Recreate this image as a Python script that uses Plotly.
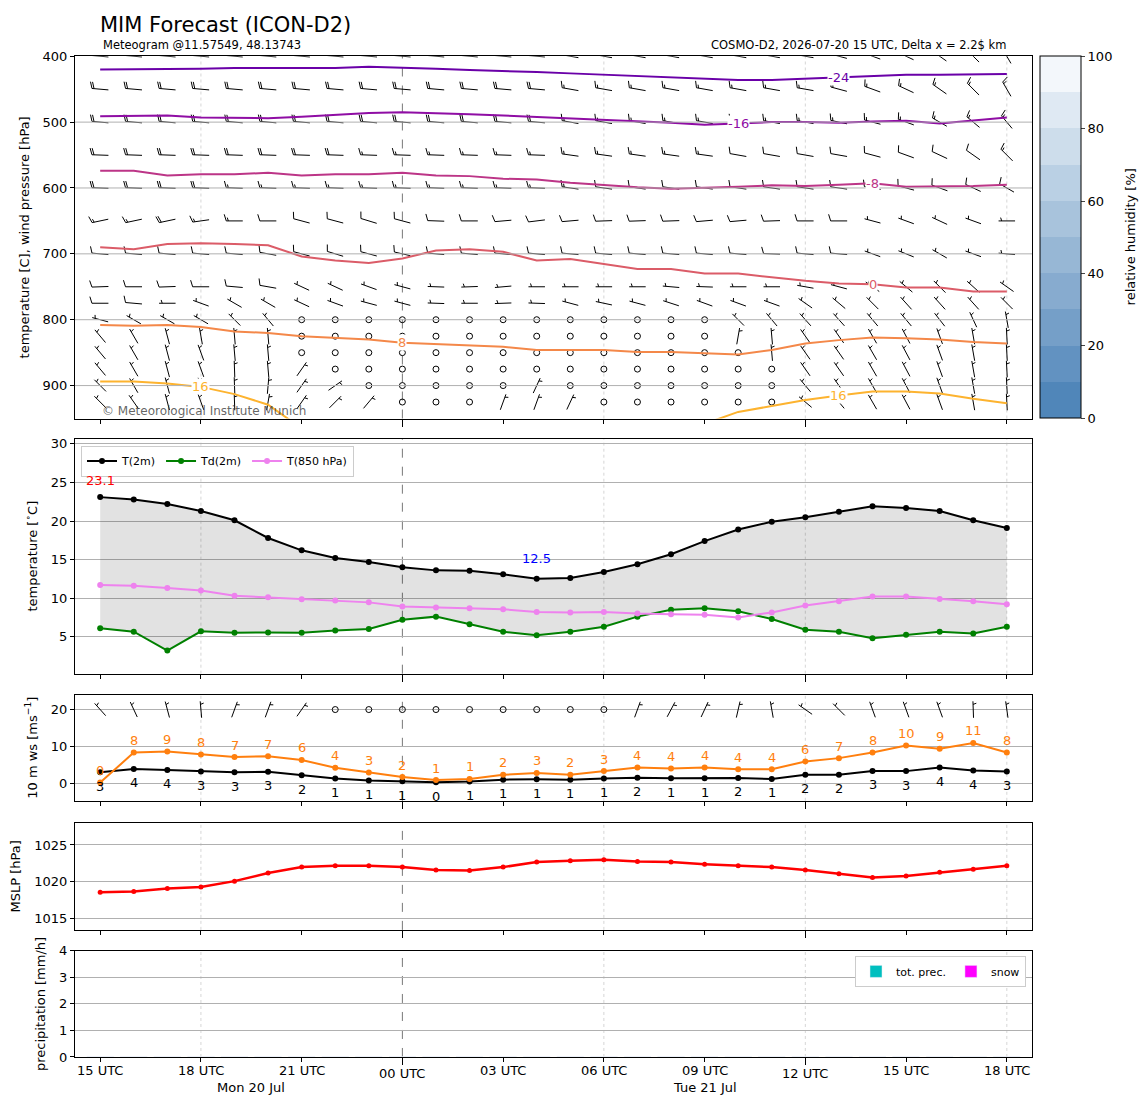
import math
import plotly.graph_objects as go

# ---------------- data ----------------
# forecast hours after 2026-07-20 15 UTC
lead_hours = list(range(28))
x_tick_hours = [0, 3, 6, 9, 12, 15, 18, 21, 24, 27]
x_tick_labels = ['15 UTC', '18 UTC', '21 UTC', '00 UTC', '03 UTC', '06 UTC',
                 '09 UTC', '12 UTC', '15 UTC', '18 UTC']
major_hours = [9, 21]
day_labels = ['Mon 20 Jul', 'Tue 21 Jul']
day_label_hours = [4.5, 18]

# isotherms: pressure [hPa] of each temperature level per hour
iso_levels = [-24, -16, -8, 0, 8, 16]
iso_m24 = [420, 420, 419, 419, 418, 418, 419, 418, 416, 417, 419, 421, 422, 424,
           426, 428, 430, 433, 435, 436, 436, 434, 432, 430, 428, 428, 427, 427]
iso_m16 = [491, 491, 490, 493, 493, 494, 492, 489, 486, 485, 486, 488, 490, 492,
           495, 496, 498, 501, 504, 502, 500, 500, 501, 499, 498, 502, 498, 493]
iso_m8 = [574, 574, 581, 579, 579, 577, 581, 579, 579, 577, 581, 582, 586, 587,
          592, 596, 599, 601, 600, 598, 596, 597, 595, 593, 598, 598, 597, 595]
iso_0 = [690, 693, 685, 684, 685, 687, 704, 710, 714, 707, 695, 693, 697, 710,
         708, 715, 723, 723, 730, 730, 736, 741, 745, 746, 751, 751, 757, 757]
iso_8 = [808, 809, 808, 811, 818, 820, 825, 828, 830, 835, 837, 838, 841, 846,
         846, 846, 849, 849, 851, 853, 846, 836, 831, 827, 828, 830, 834, 836]
iso_16 = [894, 894, 897, 902, 913, 929, 965, None, None, None, None, None, None, None,
          None, None, None, None, 958, 940, 931, 922, 915, 909, 909, 912, 920, 927]
iso_label_hours = [[22], [19], [23], [23], [9], [3, 22]]

# wind barbs: direction [deg] and speed per pressure level
wd_400 = [275, 275, 275, 275, 275, 275, 275, 275, 275, 275, 275, 275, 275, 275,
          280, 280, 280, 280, 280, 280, 280, 280, 285, 290, 295, 305, 315, 330]
ws_400 = [20, 20, 20, 20, 20, 20, 20, 20, 20, 20, 20, 20, 20, 20,
          15, 15, 15, 15, 15, 15, 15, 15, 15, 15, 15, 15, 15, 15]
wd_450 = [275, 275, 275, 275, 275, 275, 275, 275, 275, 275, 275, 275, 275, 275,
          280, 280, 280, 280, 280, 280, 280, 280, 285, 290, 295, 305, 315, 330]
ws_450 = [20, 20, 20, 20, 20, 20, 20, 20, 20, 20, 20, 20, 20, 20,
          15, 15, 15, 15, 15, 15, 15, 15, 15, 15, 15, 15, 15, 15]
wd_500 = [275, 275, 275, 275, 275, 275, 275, 275, 275, 275, 275, 275, 275, 275,
          280, 280, 280, 280, 280, 280, 280, 280, 282, 285, 290, 300, 310, 320]
ws_500 = [20, 20, 20, 20, 20, 20, 20, 20, 20, 20, 20, 20, 20, 20,
          15, 15, 15, 15, 15, 15, 15, 15, 15, 15, 15, 15, 15, 15]
wd_550 = [272, 272, 272, 272, 272, 272, 272, 272, 272, 272, 272, 272, 272, 272,
          278, 278, 278, 278, 278, 280, 280, 280, 280, 285, 290, 295, 305, 315]
ws_550 = [20, 20, 20, 20, 20, 20, 20, 20, 15, 15, 15, 15, 15, 15,
          15, 15, 15, 15, 15, 10, 10, 10, 10, 10, 10, 10, 10, 15]
wd_600 = [272, 272, 272, 272, 272, 272, 272, 272, 272, 272, 272, 272, 272, 272,
          278, 278, 278, 278, 278, 278, 278, 278, 278, 280, 285, 290, 295, 300]
ws_600 = [20, 20, 20, 20, 15, 15, 15, 15, 15, 15, 15, 15, 15, 15,
          15, 10, 10, 10, 10, 10, 10, 10, 10, 10, 10, 10, 10, 10]
wd_650 = [258, 258, 258, 262, 270, 270, 285, 285, 287, 285, 272, 270, 265, 263,
          265, 268, 268, 268, 265, 265, 268, 270, 270, 285, 290, 295, 290, 270]
ws_650 = [15, 15, 20, 15, 15, 10, 10, 10, 10, 10, 10, 10, 10, 10,
          10, 10, 10, 10, 10, 10, 10, 10, 10, 5, 5, 5, 5, 5]
wd_700 = [275, 275, 275, 275, 275, 280, 285, 287, 285, 283, 275, 275, 275, 275,
          275, 275, 275, 275, 275, 275, 272, 275, 275, 290, 292, 300, 290, 275]
ws_700 = [10, 10, 10, 10, 10, 10, 10, 10, 10, 10, 10, 10, 10, 10,
          10, 10, 10, 10, 10, 10, 10, 10, 10, 5, 5, 5, 5, 5]
wd_750 = [268, 270, 268, 270, 275, 280, 295, 295, 290, 285, 272, 268, 265, 270,
          270, 270, 270, 275, 272, 270, 270, 280, 285, 305, 310, 315, 312, 305]
ws_750 = [10, 10, 10, 10, 10, 10, 5, 5, 5, 5, 5, 5, 5, 5,
          5, 5, 5, 5, 5, 5, 5, 5, 5, 5, 5, 5, 5, 5]
wd_775 = [270, 275, 270, 290, 300, 300, 295, 290, 285, 285, 272, 270, 268, 272,
          285, 282, 285, 288, 290, 290, 290, 305, 310, 315, 318, 318, 318, 315]
ws_775 = [10, 10, 5, 5, 5, 5, 5, 5, 5, 5, 5, 5, 5, 5,
          5, 5, 5, 5, 5, 5, 5, 5, 5, 5, 5, 5, 5, 5]
wd_800 = [285, 300, 300, 300, 315, 320, 0, 0, 0, 0, 0, 0, 0, 0,
          0, 0, 0, 0, 0, 315, 320, 318, 318, 320, 320, 322, 335, 350]
ws_800 = [5, 5, 5, 5, 5, 5, 0, 0, 0, 0, 0, 0, 0, 0,
          0, 0, 0, 0, 0, 5, 5, 5, 5, 5, 5, 5, 5, 5]
wd_825 = [320, 330, 345, 350, 355, 355, 0, 0, 0, 0, 0, 0, 0, 0,
          0, 0, 0, 0, 0, 10, 355, 325, 325, 330, 332, 340, 350, 357]
ws_825 = [5, 5, 5, 5, 5, 5, 0, 0, 0, 0, 0, 0, 0, 0,
          0, 0, 0, 0, 0, 5, 5, 5, 5, 5, 5, 5, 5, 5]
wd_850 = [320, 330, 345, 340, 355, 355, 0, 0, 0, 0, 0, 0, 0, 0,
          0, 0, 0, 0, 0, 0, 355, 325, 325, 330, 332, 340, 350, 357]
ws_850 = [5, 5, 5, 5, 5, 5, 0, 0, 0, 0, 0, 0, 0, 0,
          0, 0, 0, 0, 0, 0, 5, 5, 5, 5, 5, 5, 5, 5]
wd_875 = [320, 330, 345, 340, 358, 355, 35, 0, 0, 0, 0, 0, 0, 0,
          0, 0, 0, 0, 0, 0, 0, 325, 325, 330, 332, 340, 350, 357]
ws_875 = [5, 5, 5, 5, 5, 5, 5, 0, 0, 0, 0, 0, 0, 0,
          0, 0, 0, 0, 0, 0, 0, 5, 5, 5, 5, 5, 5, 5]
wd_900 = [315, 330, 345, 340, 358, 5, 35, 55, 0, 0, 0, 0, 0, 25,
          0, 0, 0, 0, 0, 0, 0, 320, 325, 330, 332, 340, 350, 357]
ws_900 = [5, 5, 5, 5, 5, 5, 5, 5, 0, 0, 0, 0, 0, 5,
          0, 0, 0, 0, 0, 0, 0, 5, 5, 5, 5, 5, 5, 5]
wd_925 = [315, 325, 345, 340, 358, 10, 35, 45, 40, 0, 0, 0, 20, 20,
          25, 0, 0, 0, 0, 0, 0, 310, 320, 330, 332, 340, 350, 357]
ws_925 = [5, 5, 5, 5, 5, 5, 5, 5, 5, 0, 0, 0, 5, 5,
          5, 0, 0, 0, 0, 0, 0, 5, 5, 5, 5, 5, 5, 5]

# 2 m temperatures [C]
t2m = [23.1, 22.8, 22.2, 21.3, 20.1, 17.8, 16.2, 15.2, 14.7, 14.0, 13.6, 13.55, 13.1, 12.5,
       12.6, 13.4, 14.4, 15.7, 17.4, 18.9, 19.9, 20.5, 21.2, 21.9, 21.7, 21.3, 20.1, 19.1]
td2m = [6.1, 5.65, 3.2, 5.7, 5.5, 5.55, 5.5, 5.8, 6.0, 7.2, 7.6, 6.6, 5.65, 5.2,
        5.65, 6.3, 7.6, 8.5, 8.7, 8.3, 7.3, 5.9, 5.65, 4.8, 5.25, 5.65, 5.4, 6.3]
t850 = [11.7, 11.6, 11.3, 11.0, 10.3, 10.1, 9.85, 9.7, 9.45, 8.9, 8.8, 8.7, 8.55, 8.2,
        8.15, 8.2, 8.0, 7.9, 7.85, 7.5, 8.15, 9.05, 9.6, 10.2, 10.2, 9.9, 9.6, 9.2]

# 10 m wind [m/s] and gusts, plus 10 m barbs
ws10 = [3.1, 4.0, 3.7, 3.3, 3.1, 3.2, 2.3, 1.4, 0.9, 0.7, 0.4, 0.6, 1.1, 1.2,
        1.1, 1.4, 1.6, 1.45, 1.45, 1.55, 1.3, 2.4, 2.45, 3.45, 3.4, 4.4, 3.55, 3.3]
gust10 = [0.3, 8.4, 8.7, 7.9, 7.2, 7.4, 6.4, 4.3, 3.0, 1.8, 1.0, 1.3, 2.4, 2.9,
          2.45, 3.4, 4.4, 4.1, 4.4, 3.9, 3.9, 6.0, 6.9, 8.4, 10.3, 9.4, 11.0, 8.4]
wd10 = [318, 335, 345, 355, 20, 20, 35, 0, 0, 0, 0, 0, 0, 0,
        0, 0, 20, 28, 25, 13, 350, 305, 315, 340, 340, 340, 358, 352]
barb10 = [5, 5, 5, 5, 5, 5, 5, 0, 0, 0, 0, 0, 0, 0,
          0, 0, 5, 5, 5, 5, 5, 5, 5, 5, 5, 5, 5, 5]

# mean sea level pressure [hPa]
mslp = [1018.6, 1018.7, 1019.1, 1019.3, 1020.1, 1021.2, 1022.0, 1022.2, 1022.2, 1022.0,
        1021.6, 1021.55, 1022.0, 1022.7, 1022.85, 1023.0, 1022.75, 1022.7, 1022.4, 1022.2,
        1022.0, 1021.6, 1021.1, 1020.6, 1020.8, 1021.3, 1021.7, 1022.2]

# precipitation [mm/h]
prec_total = [0.0, 0.0, 0.0, 0.0, 0.0, 0.0, 0.0, 0.0, 0.0, 0.0, 0.0, 0.0, 0.0, 0.0,
              0.0, 0.0, 0.0, 0.0, 0.0, 0.0, 0.0, 0.0, 0.0, 0.0, 0.0, 0.0, 0.0, 0.0]
prec_snow = [0.0, 0.0, 0.0, 0.0, 0.0, 0.0, 0.0, 0.0, 0.0, 0.0, 0.0, 0.0, 0.0, 0.0,
             0.0, 0.0, 0.0, 0.0, 0.0, 0.0, 0.0, 0.0, 0.0, 0.0, 0.0, 0.0, 0.0, 0.0]

# ---------------- layout ----------------
W, H = 1148, 1105
FONT = 'DejaVu Sans'


# the page is shown with a small offset and a slight vertical squeeze,
# so target pixel positions are mapped to paper fractions here
def fx(px):
    return (px - 8) / W


def fy(py):
    return 1 - (py * 1.0145 - 15) / H


X_DOM = [fx(75), fx(1032)]
X_RANGE = [-0.75, 27.75]
PANELS = [(56, 418), (438, 673), (694, 800), (822, 929), (950, 1056)]  # top/bottom px
Y_RANGES = [[950, 400], [0.2, 30.7], [-4.6, 24], [1013.5, 1028], [0, 4]]
Y_TICKS = [[400, 500, 600, 700, 800, 900], [5, 10, 15, 20, 25, 30], [0, 10, 20],
           [1015, 1020, 1025], [0, 1, 2, 3, 4]]
Y_TITLES = ['temperature [C], wind pressure [hPa]', 'temperature [<sup>∘</sup>C]',
            '10 m ws [ms<sup>−1</sup>]', 'MSLP [hPa]', 'precipitation [mm/h]']
ISO_COLORS = ['#6a00a8', '#8f0da4', '#bc3587', '#db5c68', '#f48849', '#fdb32f']
RH_COLORS = ['rgb(80,134,185)', 'rgb(98,146,193)', 'rgb(117,159,200)', 'rgb(135,171,207)',
             'rgb(151,183,213)', 'rgb(168,195,220)', 'rgb(186,208,228)', 'rgb(205,221,235)',
             'rgb(223,233,243)', 'rgb(243,247,251)']

px_per_hour = (X_DOM[1] - X_DOM[0]) * W / (X_RANGE[1] - X_RANGE[0])


def data_per_px_up(i):
    """data units of panel i per screen pixel upwards"""
    top, bottom = PANELS[i]
    r0, r1 = Y_RANGES[i]
    return (r1 - r0) / (bottom - top)


def barb_path(x0, y0, wdir, wspd, sy, length=16.5):
    """staff + barbs (matplotlib style, pivot middle) as a None-separated path"""
    a = math.radians(wdir)
    s = (math.sin(a), math.cos(a))      # towards where the wind comes from
    b = (s[1], -s[0])                    # barb side
    sx = 1.0 / px_per_hour

    def pt(u, v):
        return (x0 + (u * b[0] + v * s[0]) * sx, y0 + (u * b[1] + v * s[1]) * sy)

    xs, ys = [], []

    def seg(p, q):
        xs.extend([p[0], q[0], None])
        ys.extend([p[1], q[1], None])

    mag = 5 * round(wspd / 5)
    nbarb = (mag % 50) // 10
    half = mag % 10 >= 5
    L = length
    seg(pt(0, -L / 2), pt(0, L / 2))
    offset = L
    for _ in range(nbarb):
        v = -L / 2 + offset
        seg(pt(0, v), pt(0.4 * L, v + 0.125 * L))
        offset -= 0.125 * L
    if half:
        if offset == L:
            offset -= 1.5 * 0.125 * L
        v = -L / 2 + offset
        seg(pt(0, v), pt(0.2 * L, v + 0.0625 * L))
    return xs, ys


def barb_traces(rows, xaxis, yaxis, sy):
    bx, by, cx, cy = [], [], [], []
    for yval, dirs, spds in rows:
        for h, d, v in zip(lead_hours, dirs, spds):
            if 5 * round(v / 5) == 0:
                cx.append(h)
                cy.append(yval)
                continue
            xs, ys = barb_path(h, yval, d, v, sy)
            bx += xs
            by += ys
    return [
        go.Scatter(x=bx, y=by, mode='lines', line=dict(color='black', width=1),
                   xaxis=xaxis, yaxis=yaxis, hoverinfo='skip', showlegend=False),
        go.Scatter(x=cx, y=cy, mode='markers', xaxis=xaxis, yaxis=yaxis,
                   marker=dict(symbol='circle-open', size=6, color='black', line=dict(width=1)),
                   hoverinfo='skip', showlegend=False),
    ]


fig = go.Figure()

# ---- panel 1: isotherms and wind barbs ----
wind_rows = [
    (400, wd_400, ws_400), (450, wd_450, ws_450), (500, wd_500, ws_500), (550, wd_550, ws_550),
    (600, wd_600, ws_600), (650, wd_650, ws_650), (700, wd_700, ws_700), (750, wd_750, ws_750),
    (775, wd_775, ws_775), (800, wd_800, ws_800), (825, wd_825, ws_825), (850, wd_850, ws_850),
    (875, wd_875, ws_875), (900, wd_900, ws_900), (925, wd_925, ws_925),
]
for tr in barb_traces(wind_rows, 'x', 'y', data_per_px_up(0)):
    fig.add_trace(tr)

# colorbar for relative humidity (no field drawn in this run)
rh_scale = []
for k, c in enumerate(RH_COLORS):
    rh_scale += [[k / 10, c], [(k + 1) / 10, c]]
fig.add_trace(go.Scatter(
    x=[0, 0], y=[940, 940], mode='markers', xaxis='x', yaxis='y', hoverinfo='skip',
    showlegend=False, opacity=0,
    marker=dict(size=1, color=[0, 100], cmin=0, cmax=100, colorscale=rh_scale, showscale=True,
                colorbar=dict(x=fx(1040), xanchor='left', y=fy(56), yanchor='top',
                              len=fy(56) - fy(418), lenmode='fraction', thickness=41,
                              xpad=0, ypad=0, outlinecolor='black', outlinewidth=1,
                              tickvals=[0, 20, 40, 60, 80, 100], ticks='outside', ticklen=4,
                              tickfont=dict(family=FONT, size=13, color='black')))))

isotherms = [iso_m24, iso_m16, iso_m8, iso_0, iso_8, iso_16]
annotations = []
for lev, line, col, lab_hours in zip(iso_levels, isotherms, ISO_COLORS, iso_label_hours):
    fig.add_trace(go.Scatter(x=lead_hours, y=line, mode='lines', xaxis='x', yaxis='y',
                             line=dict(color=col, width=2), connectgaps=False,
                             hoverinfo='skip', showlegend=False))
    for h in lab_hours:
        annotations.append(dict(x=h, y=line[h], xref='x', yref='y', text=f'{lev:d}',
                                showarrow=False, bgcolor='white', borderpad=0,
                                font=dict(family=FONT, size=13, color=col)))

# ---- panel 2: temperatures ----
fig.add_trace(go.Scatter(x=lead_hours, y=td2m, mode='lines', line=dict(width=0),
                         xaxis='x2', yaxis='y2', hoverinfo='skip', showlegend=False))
fig.add_trace(go.Scatter(x=lead_hours, y=t2m, mode='lines', line=dict(width=0),
                         fill='tonexty', fillcolor='rgba(0,0,0,0.115)',
                         xaxis='x2', yaxis='y2', hoverinfo='skip', showlegend=False))
for name, vals, col in [('T(2m)', t2m, 'black'), ('Td(2m)', td2m, 'green'),
                        ('T(850 hPa)', t850, 'violet')]:
    fig.add_trace(go.Scatter(x=lead_hours, y=vals, mode='lines+markers', name=name,
                             line=dict(color=col, width=2), marker=dict(color=col, size=6),
                             xaxis='x2', yaxis='y2', legend='legend'))
i_max = t2m.index(max(t2m))
i_min = t2m.index(min(t2m))
annotations.append(dict(x=lead_hours[i_max], y=t2m[i_max], xref='x2', yref='y2', yshift=17,
                        text=f'{t2m[i_max]:.1f}', showarrow=False,
                        font=dict(family=FONT, size=13, color='red')))
annotations.append(dict(x=lead_hours[i_min], y=t2m[i_min], xref='x2', yref='y2', yshift=20,
                        text=f'{t2m[i_min]:.1f}', showarrow=False,
                        font=dict(family=FONT, size=13, color='blue')))

# ---- panel 3: 10 m wind ----
for tr in barb_traces([(20, wd10, barb10)], 'x3', 'y3', data_per_px_up(2)):
    fig.add_trace(tr)
fig.add_trace(go.Scatter(x=lead_hours, y=ws10, mode='lines+markers', showlegend=False,
                         line=dict(color='black', width=2), marker=dict(color='black', size=6),
                         xaxis='x3', yaxis='y3'))
fig.add_trace(go.Scatter(x=lead_hours, y=gust10, mode='lines+markers', showlegend=False,
                         line=dict(color='#ff7f0e', width=2), marker=dict(color='#ff7f0e', size=6),
                         xaxis='x3', yaxis='y3'))
for h, v, g in zip(lead_hours, ws10, gust10):
    annotations.append(dict(x=h, y=v, xref='x3', yref='y3', yshift=-14, text=f'{v:.0f}',
                            showarrow=False, font=dict(family=FONT, size=13, color='black')))
    annotations.append(dict(x=h, y=g, xref='x3', yref='y3', yshift=12, text=f'{g:.0f}',
                            showarrow=False, font=dict(family=FONT, size=13, color='#ff7f0e')))

# ---- panel 4: MSLP ----
fig.add_trace(go.Scatter(x=lead_hours, y=mslp, mode='lines+markers', showlegend=False,
                         line=dict(color='red', width=2.5), marker=dict(color='red', size=5),
                         xaxis='x4', yaxis='y4'))

# ---- panel 5: precipitation ----
fig.add_trace(go.Bar(x=lead_hours, y=prec_total, name='tot. prec.', marker_color='#00bfbf',
                     xaxis='x5', yaxis='y5', legend='legend2'))
fig.add_trace(go.Bar(x=lead_hours, y=prec_snow, name='snow', marker_color='#ff00ff',
                     xaxis='x5', yaxis='y5', legend='legend2'))

# ---- axes ----
layout = {}
minor_hours = [h for h in x_tick_hours if h not in major_hours]
for i, (top, bottom) in enumerate(PANELS):
    sfx = '' if i == 0 else str(i + 1)
    layout['xaxis' + sfx] = dict(
        domain=X_DOM, range=X_RANGE, anchor='y' + sfx, showgrid=False, zeroline=False,
        showline=True, mirror=True, linecolor='black', linewidth=1,
        tickmode='array', tickvals=major_hours, showticklabels=False,
        ticks='outside', ticklen=7, tickcolor='black',
        minor=dict(tickmode='array', tickvals=minor_hours, ticks='outside', ticklen=4,
                   tickcolor='black', showgrid=False),
        matches=None if i == 0 else 'x')
    layout['yaxis' + sfx] = dict(
        domain=[fy(bottom), fy(top)], range=Y_RANGES[i], anchor='x' + sfx,
        tickvals=Y_TICKS[i], ticks='outside', ticklen=4, tickcolor='black',
        showline=True, mirror=True, linecolor='black', linewidth=1, zeroline=False,
        showgrid=i != 0, gridcolor='#b0b0b0', gridwidth=1,
        tickfont=dict(family=FONT, size=13, color='black'),
        title=dict(text=Y_TITLES[i], standoff=10, font=dict(family=FONT, size=13, color='black')))

# ---- shapes: grid lines ----
shapes = []
for p in Y_TICKS[0][1:]:
    shapes.append(dict(type='line', xref='x domain', yref='y', x0=0, x1=1, y0=p, y1=p,
                       layer='above', line=dict(color='#b0b0b0', width=1)))
for i in range(len(PANELS)):
    sfx = '' if i == 0 else str(i + 1)
    for h in [3, 15, 21, 27]:
        shapes.append(dict(type='line', xref='x' + sfx, yref='y' + sfx + ' domain',
                           x0=h, x1=h, y0=0, y1=1, layer='below',
                           line=dict(color='#cccccc', width=0.8, dash='dot')))
    shapes.append(dict(type='line', xref='x' + sfx, yref='y' + sfx + ' domain',
                       x0=9, x1=9, y0=0, y1=1, layer='below',
                       line=dict(color='#555555', width=0.8, dash='dash')))

# ---- text ----
for h, lab in zip(x_tick_hours, x_tick_labels):
    annotations.append(dict(x=h, y=fy(1073 if h in major_hours else 1070), xref='x5',
                            yref='paper', text=lab, showarrow=False, yanchor='middle',
                            font=dict(family=FONT, size=13, color='black')))
for h, lab in zip(day_label_hours, day_labels):
    annotations.append(dict(x=h, y=fy(1087), xref='x5', yref='paper', text=lab,
                            showarrow=False, yanchor='middle',
                            font=dict(family=FONT, size=13, color='black')))
annotations += [
    dict(x=fx(99), y=1 + 3 / H, xref='paper', yref='paper', xanchor='left', yanchor='top',
         text='MIM Forecast (ICON-D2)', showarrow=False, borderpad=0,
         font=dict(family=FONT, size=21, color='black')),
    dict(x=fx(101), y=fy(45), xref='paper', yref='paper', xanchor='left', yanchor='middle',
         text='Meteogram @11.57549, 48.13743', showarrow=False,
         font=dict(family=FONT, size=11.5, color='black')),
    dict(x=fx(1008), y=fy(45), xref='paper', yref='paper', xanchor='right', yanchor='middle',
         text='COSMO-D2, 2026-07-20 15 UTC, Delta x = 2.2$ km', showarrow=False,
         font=dict(family=FONT, size=11.5, color='black')),
    dict(x=fx(100), y=fy(410), xref='paper', yref='paper', xanchor='left', yanchor='middle',
         text='© Meteorological Institute Munich', showarrow=False,
         font=dict(family=FONT, size=12, color='rgba(60,60,60,0.8)')),
    dict(x=fx(1130), y=fy(237), xref='paper', yref='paper', xanchor='center', yanchor='middle',
         text='relative humidity [%]', showarrow=False, textangle=-90,
         font=dict(family=FONT, size=13, color='black')),
]

fig.update_layout(
    width=W, height=H, margin=dict(l=0, r=0, t=0, b=0),
    plot_bgcolor='white', paper_bgcolor='white',
    font=dict(family=FONT, size=13, color='black'),
    barmode='overlay', shapes=shapes, annotations=annotations,
    legend=dict(x=fx(81), y=fy(445), xanchor='left', yanchor='top', orientation='h',
                traceorder='normal', bgcolor='white', bordercolor='#cccccc', borderwidth=1,
                font=dict(family=FONT, size=11, color='black')),
    legend2=dict(x=fx(1026), y=fy(955), xanchor='right', yanchor='top', orientation='h',
                 traceorder='normal', bgcolor='white', bordercolor='#cccccc', borderwidth=1,
                 font=dict(family=FONT, size=11, color='black')),
    **layout)

fig.write_html("out.html")
